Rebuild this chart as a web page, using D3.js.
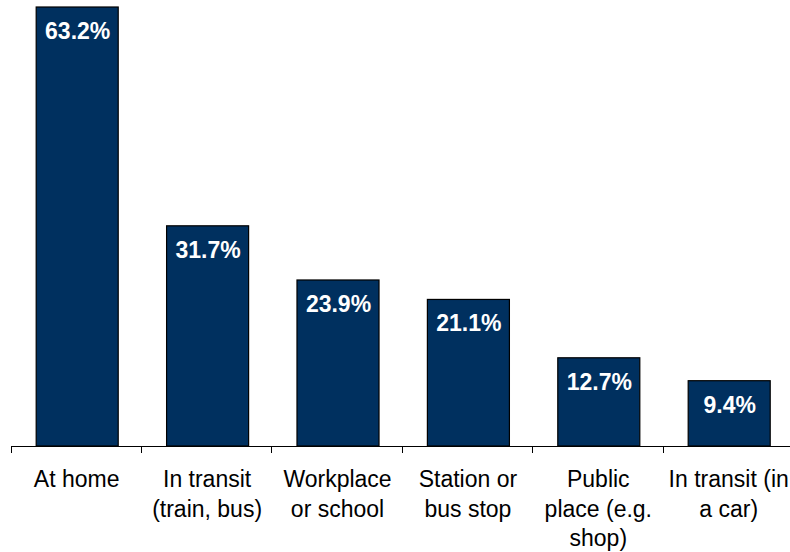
<!DOCTYPE html>
<html>
<head>
<meta charset="utf-8">
<script src="https://cdn.jsdelivr.net/npm/d3@7"></script>
<style>
  html, body { margin: 0; padding: 0; background: #fff; }
  svg { display: block; }
</style>
</head>
<body>
<svg id="chart" width="790" height="552"></svg>
<script>
const categories = ["At home", "In transit (train, bus)", "Workplace or school", "Station or bus stop", "Public place (e.g. shop)", "In transit (in a car)"];
const categoryLines = [
  ["At home"],
  ["In transit", "(train, bus)"],
  ["Workplace", "or school"],
  ["Station or", "bus stop"],
  ["Public", "place (e.g.", "shop)"],
  ["In transit (in", "a car)"]
];
const values = [63.2, 31.7, 23.9, 21.1, 12.7, 9.4];
const valueLabels = ["63.2%", "31.7%", "23.9%", "21.1%", "12.7%", "9.4%"];

const svg = d3.select("#chart");
const font = "'Liberation Sans', Arial, Helvetica, sans-serif";

const baseY = 446;
const y = d3.scaleLinear().domain([0, 63.2]).range([baseY, 7]);

const pad = 0.371;
const x = d3.scaleBand()
  .domain(categories)
  .range([11.5, 793.9])
  .paddingInner(pad)
  .paddingOuter(pad / 2);

const step = x.step();
const gap = step * pad / 2;

// bars
svg.append("g").selectAll("rect")
  .data(values)
  .join("rect")
  .attr("x", (d, i) => x(categories[i]) + 0.5)
  .attr("y", d => y(d))
  .attr("width", x.bandwidth())
  .attr("height", d => baseY - y(d))
  .attr("fill", "#00305f")
  .attr("stroke", "#000")
  .attr("stroke-width", 1.2);

// value labels
svg.append("g").selectAll("text")
  .data(values)
  .join("text")
  .attr("x", (d, i) => x(categories[i]) + x.bandwidth() / 2 + 1)
  .attr("y", d => y(d) + 32)
  .attr("text-anchor", "middle")
  .attr("fill", "#fff")
  .attr("font-family", font)
  .attr("font-weight", "bold")
  .attr("font-size", "23px")
  .text((d, i) => valueLabels[i]);

// axis line
const axisG = svg.append("g");
axisG.append("line")
  .attr("x1", 11).attr("x2", 790)
  .attr("y1", baseY + 0.5).attr("y2", baseY + 0.5)
  .attr("stroke", "#000").attr("stroke-width", 1);

// ticks at category boundaries
const boundaries = categories.map(c => x(c) - gap).concat([x(categories[categories.length - 1]) + x.bandwidth() + gap]);
axisG.selectAll("line.tick")
  .data(boundaries)
  .join("line")
  .attr("class", "tick")
  .attr("x1", d => Math.round(d) - 0.5)
  .attr("x2", d => Math.round(d) - 0.5)
  .attr("y1", baseY)
  .attr("y2", baseY + 7)
  .attr("stroke", "#000").attr("stroke-width", 1);

// category labels
const lab = svg.append("g").selectAll("text")
  .data(categories)
  .join("text")
  .attr("text-anchor", "middle")
  .attr("font-family", font)
  .attr("font-size", "23px")
  .attr("fill", "#000")
  .attr("transform", d => `translate(${x(d) + x.bandwidth() / 2},487)`);

lab.each(function(d, i) {
  d3.select(this).selectAll("tspan")
    .data(categoryLines[i])
    .join("tspan")
    .attr("x", 0)
    .attr("y", (t, j) => j * 29.5)
    .text(t => t);
});
</script>
</body>
</html>
